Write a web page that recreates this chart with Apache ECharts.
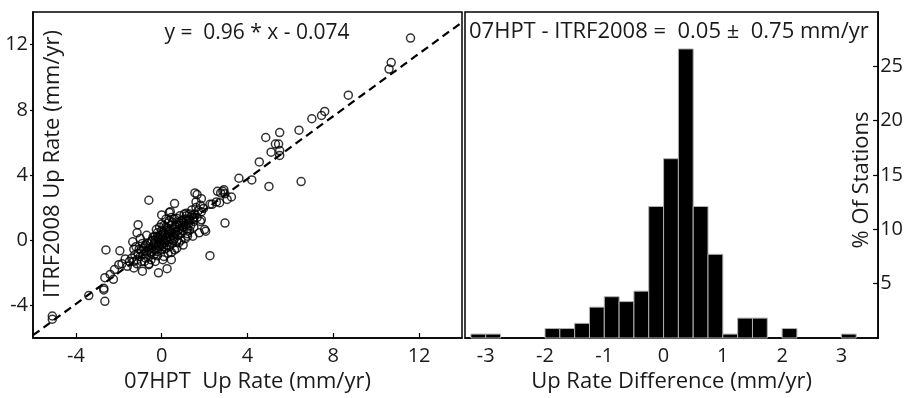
<!DOCTYPE html>
<html>
<head>
<meta charset="utf-8">
<script src="https://cdn.jsdelivr.net/npm/echarts@6/dist/echarts.min.js"></script>
<style>
  html, body { margin: 0; padding: 0; background: #fff; }
  #chart { width: 906px; height: 398px; }
</style>
</head>
<body>
<div id="chart"></div>
<script>
// scatter: 07HPT up rate (x) vs ITRF2008 up rate (y), mm/yr
const upRates = [
  [11.6,12.4],[10.7,10.9],[10.6,10.5],[8.7,8.9],[7.6,7.9],[7.45,7.65],[7.0,7.45],[6.4,6.75],[6.5,3.6],
  [5.5,6.6],[4.85,6.3],[5.45,5.9],[5.3,5.9],[5.5,5.5],[5.1,5.4],[5.5,5.2],[4.55,4.8],[4.2,3.7],[3.6,3.8],[5.0,3.3],
  [3.25,2.65],[2.9,3.1],[2.75,2.9],[2.95,2.85],[2.85,3.0],[2.7,2.3],[2.95,1.05],[2.25,2.2],[2.05,0.55],[2.25,-0.95],
  [1.65,2.8],[1.85,2.55],[1.6,2.35],[1.8,2.15],[1.55,2.9],[1.95,1.95],[1.15,1.65],[1.4,1.5],[1.85,1.75],[1.85,1.25],
  [1.5,1.15],[2.0,0.65],[1.45,0.25],[1.2,0.25],[1.3,1.25],[1.8,1.15],[2.35,2.2],[2.55,2.35],[3.05,2.5],[2.6,3.0],[1.75,0.45],
  [-0.6,2.45],[0.6,2.25],[0.0,1.55],[0.35,1.7],[0.4,1.75],[0.3,1.05],[-1.1,0.95],[-1.15,0.45],[-1.35,-0.1],[-1.3,-0.55],
  [-2.6,-0.6],[-1.95,-0.65],[-2.2,-1.8],[-2.65,-2.3],[-2.25,-2.4],[-2.7,-2.95],[-2.7,-3.05],[-2.65,-3.75],[-3.4,-3.4],
  [-5.1,-4.65],[-5.1,-4.85],[-0.25,0.65],[-0.3,0.25],
  [0.25,-1.75],[-0.15,-2.0],[-0.9,-1.9],[-0.6,-1.45],[-1.15,-1.45],[0.45,-1.2],[0.05,-1.2],[-0.2,-0.95],[0.45,-0.75],
  [0.8,-0.15],[-1.7,-1.15],[-1.5,-1.3],[-1.85,-1.45],[1.0,-0.3],[1.1,0.1],[0.7,-0.5],
  [-1.4,-1.1],[-1.25,-0.9],[-1.1,-0.8],[-1.0,-1.0],[-0.95,-0.6],[-0.85,-0.85],[-0.8,-0.4],[-0.75,-1.1],[-0.7,-0.7],
  [-0.65,-0.2],[-0.6,-0.9],[-0.55,-0.5],[-0.5,-0.1],[-0.5,-1.2],[-0.45,-0.7],[-0.4,0.2],[-0.4,-0.35],[-0.35,-0.9],
  [-0.3,-0.55],[-0.3,0.0],[-0.25,-0.25],[-0.2,0.45],[-0.2,-0.7],[-0.15,0.1],[-0.1,-0.4],[-0.1,0.3],[-0.05,-0.1],
  [0.0,0.6],[0.0,-0.6],[0.05,0.2],[0.05,-0.3],[0.1,0.0],[0.1,0.9],[0.15,-0.15],[0.15,0.4],[0.2,-0.5],[0.2,0.15],
  [0.25,0.7],[0.3,-0.1],[0.3,0.35],[0.35,1.2],[0.35,-0.4],[0.4,0.55],[0.4,0.05],[0.45,0.9],[0.5,0.3],[0.5,-0.2],
  [0.55,0.7],[0.6,1.3],[0.6,0.1],[0.65,0.5],[0.7,0.95],[0.7,-0.1],[0.75,0.3],[0.8,1.1],[0.8,0.65],[0.85,1.5],
  [0.9,0.4],[0.95,0.9],[1.0,1.25],[1.0,0.6],[1.05,1.6],[1.1,0.95],[1.15,1.3],[1.2,0.7],[1.25,1.0],[1.3,1.6],
  [1.35,0.9],[1.4,1.85],[1.45,1.3],[1.5,0.8],[1.55,1.6],[1.6,2.0],[1.65,1.4],[1.7,1.8],
  [-0.9,-0.2],[-1.2,-0.4],[-1.0,0.1],[-0.7,0.3],[0.0,1.0],[0.2,1.3],[-0.1,0.8],[0.3,-0.8],[0.1,-1.0],
  [-0.6,-1.5],[-0.3,-1.3],[0.6,-0.6],[0.9,0.0],[1.2,0.4],
  [-2.0,-1.5],[-1.6,-1.6],[-1.3,-1.7],[-2.4,-2.1],
  [-1.3,-1.3],[-1.15,-1.2],[-0.95,-1.3],[-0.85,-0.5],[-0.75,-0.3],[-0.6,-0.6],[-0.5,-0.8],[-0.45,0.0],
  [-0.35,-0.2],[-0.25,-0.6],[-0.15,-0.35],[-0.1,0.0],[0.0,0.3],[0.0,-0.2],[0.1,0.5],[0.1,-0.4],[0.2,0.8],
  [0.25,0.0],[0.3,0.6],[0.35,0.2],[0.45,0.45],[0.5,1.1],[0.55,0.0],[0.65,0.8],[0.75,0.55],[0.85,0.9],
  [0.9,1.2],[1.0,0.8],[1.05,1.05],[1.15,1.5],[1.25,1.25],[1.3,0.6],[1.5,1.4],[-0.8,-1.3],[-1.05,-0.55],
  [0.6,0.4],[0.25,-0.3],[-0.2,0.2],[0.45,1.4],[0.7,1.35]
];
// regression line y = 0.96 * x - 0.074, end points
const fitLine = [[-6, -5.83], [14, 13.37]];
const scatterTicks = [-4, 0, 4, 8, 12];

// histogram of differences, bins of 0.25 mm/yr
const binLeft = [-3.25, -3.0, -2.0, -1.75, -1.5, -1.25, -1.0, -0.75, -0.5, -0.25, 0, 0.25, 0.5, 0.75, 1.0, 1.25, 1.5, 2.0, 3.0];
const binPct = [0.36, 0.36, 0.87, 0.87, 1.35, 2.84, 3.8, 3.35, 4.31, 12.1, 16.5, 26.6, 12.1, 7.7, 0.36, 1.83, 1.83, 0.87, 0.36];
const binWidth = 0.25;
const diffTicks = [-3, -2, -1, 0, 1, 2, 3];
const pctTicks = [5, 10, 15, 20, 25];

const font = 'Open Sans';
const txt = '#1a1a1a';
const chart = echarts.init(document.getElementById('chart'));

const histData = binLeft.map((b, i) => [b, b + binWidth, binPct[i]]);

const option = {
  animation: false,
  textStyle: { fontFamily: font },
  grid: [
    { left: 33, top: 12, width: 429, height: 332, show: true, borderColor: '#000', borderWidth: 1.5 },
    { left: 465, top: 12, width: 418, height: 334, show: true, borderColor: '#000', borderWidth: 1.5 }
  ],
  xAxis: [
    {
      gridIndex: 0, type: 'value', min: -6, max: 14,
      axisLine: { onZero: false, lineStyle: { color: '#000', width: 1.5 } },
      axisTick: { inside: true, length: 5, lineStyle: { color: '#000', width: 1.2 }, customValues: scatterTicks },
      axisLabel: { customValues: scatterTicks, fontSize: 20, color: txt, margin: 8, fontFamily: font },
      splitLine: { show: false },
      name: '07HPT  Up Rate (mm/yr)', nameLocation: 'middle', nameGap: 33,
      nameTextStyle: { fontSize: 22, color: txt, fontFamily: font }
    },
    {
      gridIndex: 1, type: 'value', min: -3.35, max: 3.62,
      axisLine: { onZero: false, lineStyle: { color: '#000', width: 1.5 } },
      axisTick: { show: false },
      axisLabel: { customValues: diffTicks, fontSize: 20, color: txt, margin: 8, fontFamily: font },
      splitLine: { show: false },
      name: 'Up Rate Difference (mm/yr)', nameLocation: 'middle', nameGap: 33,
      nameTextStyle: { fontSize: 22, color: txt, fontFamily: font }
    }
  ],
  yAxis: [
    {
      gridIndex: 0, type: 'value', min: -6, max: 14,
      axisLine: { onZero: false, lineStyle: { color: '#000', width: 1.5 } },
      axisTick: { length: 3, lineStyle: { color: '#000', width: 1.2 }, customValues: scatterTicks },
      axisLabel: { customValues: scatterTicks, fontSize: 20, color: txt, margin: 5, padding: [0, 0, 8, 0], fontFamily: font },
      splitLine: { show: false }
    },
    {
      gridIndex: 1, type: 'value', position: 'right', min: 0, max: 30,
      axisLine: { onZero: false, lineStyle: { color: '#000', width: 1.5 } },
      axisTick: { inside: true, length: 5, lineStyle: { color: '#000', width: 1.2 }, customValues: pctTicks },
      axisLabel: { customValues: pctTicks, fontSize: 20, color: txt, margin: 2, padding: [0, 0, 8, 0], fontFamily: font },
      splitLine: { show: false }
    }
  ],
  graphic: [
    { type: 'text', x: 53, y: 164, rotation: Math.PI / 2,
      style: { text: 'ITRF2008 Up Rate (mm/yr)', font: '22px "Open Sans"', fill: txt, textAlign: 'center', textVerticalAlign: 'middle' } },
    { type: 'text', x: 862, y: 180, rotation: Math.PI / 2,
      style: { text: '% Of Stations', font: '22px "Open Sans"', fill: txt, textAlign: 'center', textVerticalAlign: 'middle' } },
    { type: 'text', x: 257, y: 33,
      style: { text: 'y =  0.96 * x - 0.074', font: '21px "Open Sans"', fill: txt, textAlign: 'center', textVerticalAlign: 'middle' } },
    { type: 'text', x: 469, y: 32,
      style: { text: '07HPT - ITRF2008 =  0.05 \u00b1  0.75 mm/yr', font: '22px "Open Sans"', fill: txt, textAlign: 'left', textVerticalAlign: 'middle' } }
  ],
  series: [
    {
      type: 'line', xAxisIndex: 0, yAxisIndex: 0, data: fitLine, symbol: 'none',
      lineStyle: { color: '#000', width: 2.2, type: [8, 5] }, z: 2
    },
    {
      type: 'scatter', xAxisIndex: 0, yAxisIndex: 0, data: upRates, symbol: 'circle', symbolSize: 8,
      itemStyle: { color: 'rgba(0,0,0,0)', borderColor: '#000', borderWidth: 1.5 }, z: 3
    },
    {
      type: 'custom', xAxisIndex: 1, yAxisIndex: 1, data: histData,
      encode: { x: [0, 1], y: 2 },
      renderItem: function (params, api) {
        const p0 = api.coord([api.value(0), api.value(2)]);
        const p1 = api.coord([api.value(1), 0]);
        return {
          type: 'rect',
          shape: { x: p0[0], y: p0[1], width: p1[0] - p0[0], height: p1[1] - p0[1] },
          style: { fill: '#000', stroke: '#b0b0b0', lineWidth: 1 }
        };
      }
    }
  ]
};
chart.setOption(option);
</script>
</body>
</html>
